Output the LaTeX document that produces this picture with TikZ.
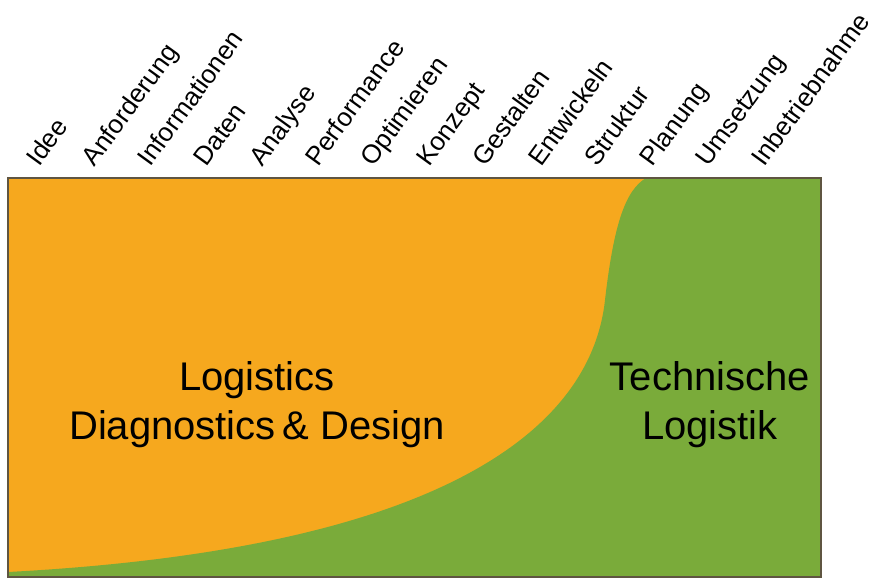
\documentclass[tikz,border=0pt]{standalone}
\usepackage{fontspec}
\setmainfont{Liberation Sans}
\definecolor{ldorange}{RGB}{246,168,30}
\definecolor{tlgreen}{RGB}{122,171,58}
\definecolor{frame}{RGB}{95,85,65}
\tikzset{
  phase/.style={rotate=54,anchor=base west,inner sep=0pt,font=\fontsize{26}{30}\selectfont},
  area/.style={align=center,inner sep=0pt,font=\fontsize{40}{49}\selectfont}
}
\begin{document}
\begin{tikzpicture}[x=1pt,y=1pt,yscale=-1,xscale=1]
\useasboundingbox (0,0) rectangle (882,580);

%orange field
\fill [ldorange] (8,178) rectangle (821,577);
%green field, S-curve boundary
\fill [tlgreen] (8,577) -- (8,572) .. controls (460,548) and (592,420) .. (605,300) .. controls (614,222) and (626,190) .. (646,178) -- (821,178) -- (821,577) -- cycle;
%frame
\draw [frame,line width=1.6] (8,178) rectangle (821,577);

%area labels
\node [area] (ldd) at (257,405) {Logistics\\Diagnostics\,\&~Design};
\node [area] (tl) at (710,405) {Technische\\Logistik};

%phase labels
\foreach \lbl [count=\i from 0] in {Idee,Anforderung,Informationen,Daten,Analyse,Performance,Optimieren,Konzept,Gestalten,Entwickeln,Struktur,Planung,Umsetzung,Inbetriebnahme}
  \node [phase] (ph\i) at ({39+55.8*\i},168) {\lbl};
\end{tikzpicture}
\end{document}
